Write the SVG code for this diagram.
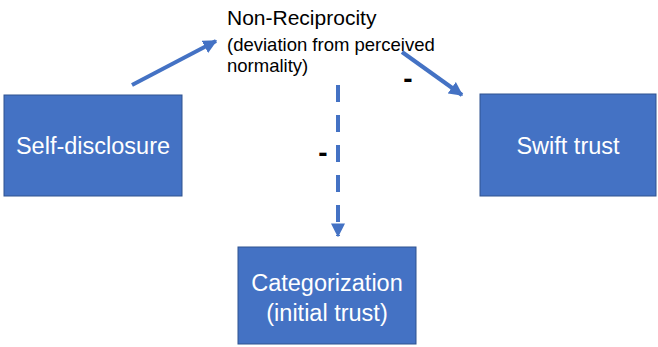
<svg xmlns="http://www.w3.org/2000/svg" width="658" height="347" viewBox="0 0 658 347">
<defs>
<style>
.box{fill:#4472C4;stroke:#2F528F;stroke-width:1}
.bt{font-family:"Liberation Sans",Arial,sans-serif;font-size:23.5px;fill:#ffffff;text-anchor:middle}
.lt{font-family:"Liberation Sans",Arial,sans-serif;fill:#000000}
.mn{font-family:"Liberation Sans",Arial,sans-serif;font-size:28px;font-weight:bold;fill:#000000;text-anchor:middle}
.conn{stroke:#4472C4;stroke-width:4;fill:none}
</style>
<marker id="ah" viewBox="0 0 10 10" refX="9" refY="5" markerWidth="3.5" markerHeight="3.5" orient="auto" markerUnits="strokeWidth">
<path d="M0,0 L10,5 L0,10 z" fill="#4472C4"/>
</marker>
</defs>
<rect width="658" height="347" fill="#ffffff"/>
<g id="non-reciprocity">
<text class="lt" x="227" y="25" font-size="21">Non-Reciprocity</text>
<text class="lt" x="227" y="51" font-size="18.5">(deviation from perceived</text>
<text class="lt" x="227" y="72" font-size="18.5">normality)</text>
</g>
<g id="self-disclosure">
<rect class="box" x="4" y="95" width="178" height="101"/>
<text class="bt" x="93" y="154">Self-disclosure</text>
</g>
<g id="swift-trust">
<rect class="box" x="480" y="94" width="176" height="102"/>
<text class="bt" x="568" y="154">Swift trust</text>
</g>
<g id="categorization">
<rect class="box" x="238" y="247" width="178" height="97"/>
<text class="bt" x="327" y="291">Categorization</text>
<text class="bt" x="327" y="321">(initial trust)</text>
</g>
<g id="connectors">
<line class="conn" x1="132" y1="85" x2="216" y2="41" marker-end="url(#ah)"/>
<line class="conn" x1="402" y1="52" x2="462" y2="95" marker-end="url(#ah)"/>
<line class="conn" x1="338" y1="85" x2="338" y2="236" stroke-dasharray="17 13" marker-end="url(#ah)"/>
<text class="mn" x="408" y="88">-</text>
<text class="mn" x="323" y="162">-</text>
</g>
</svg>
